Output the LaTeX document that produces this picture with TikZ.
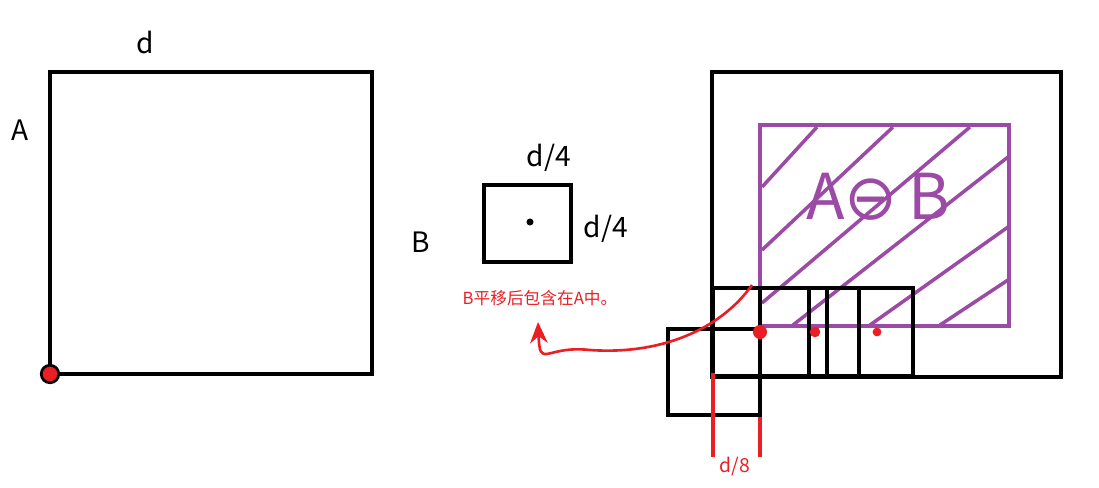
\documentclass[tikz,border=0pt]{standalone}
\usepackage{fontspec}
\setmainfont{Noto Sans CJK SC}
\newfontfamily\symfont{DejaVu Sans}
\usetikzlibrary{arrows.meta}
\definecolor{hatch}{RGB}{155,75,165}
\definecolor{pen}{RGB}{235,30,35}
\tikzset{box/.style={draw=black, line width=2.4pt},
  lab/.style={font=\fontsize{16}{18}\selectfont},
  dot/.style={circle, fill=pen, inner sep=0pt, minimum size=#1}}
\begin{document}
\begin{tikzpicture}[x=0.02cm, y=-0.02cm]
\useasboundingbox (0,0) rectangle (1099,487);
% left: square A
\draw[box] (50,72) rectangle (372,374);
\node[lab] (d) at (145,42) {d};
\node[lab] (A) at (20,130) {A};
\node[circle, fill=pen, draw=black, line width=1.5pt, inner sep=0pt, minimum size=10pt] (corner) at (50,374) {};
% middle: square B
\draw[box] (484,185) rectangle (571,262);
\node[circle, fill=black, inner sep=0pt, minimum size=4pt] (centre) at (530,222) {};
\node[lab] (top) at (549,158) {d/4};
\node[lab] (side) at (606,229) {d/4};
\node[lab] (B) at (421,242) {B};
\node[text=pen, font=\fontsize{9.5}{11}\selectfont] (note) at (540,298) {B平移后包含在A中。};
% right: region
\draw[box] (712,72) rectangle (1061,377);
\begin{scope}
\clip (760,125) rectangle (1009,326);
\draw[hatch, line width=2pt] (762,187) -- (817,127) (762,250) -- (893,127)
  (762,303) -- (970,127) (793,325) -- (1008,157) (870,325) -- (1008,227)
  (940,325) -- (1008,280);
\end{scope}
\draw[hatch, line width=2.6pt] (760,125) rectangle (1009,326);
\node[text=hatch, font=\fontsize{36}{40}\selectfont] (diff) at (878,197) {A{\symfont ⊖}\,B};
\draw[box] (713,288) rectangle (913,376);
\foreach \x in {760,809,827,859} \draw[box] (\x,288) -- (\x,376);
\draw[box] (668,329) rectangle (760,415);
\node[dot=8pt] (p1) at (760,332) {};
\node[dot=6pt] (p2) at (815,332) {};
\node[dot=5pt] (p3) at (877,332) {};
% shift marks
\coordinate (m1) at (713,373); \coordinate (m1e) at (713,457);
\coordinate (m2) at (760,417); \coordinate (m2e) at (760,457);
\draw[pen, line width=2.4pt] (m1) -- (m1e) (m2) -- (m2e);
\node[text=pen, font=\fontsize{11}{13}\selectfont] (eighth) at (735,467) {d/8};
\coordinate (tail) at (752,285);
\coordinate (head) at (538,322);
\draw[pen, line width=1.5pt, -{Stealth[length=12pt,width=10pt]}] (tail) .. controls (720,330) and (660,355) .. (590,350)
  .. controls (545,345) and (540,370) .. (head);
\end{tikzpicture}
\end{document}
